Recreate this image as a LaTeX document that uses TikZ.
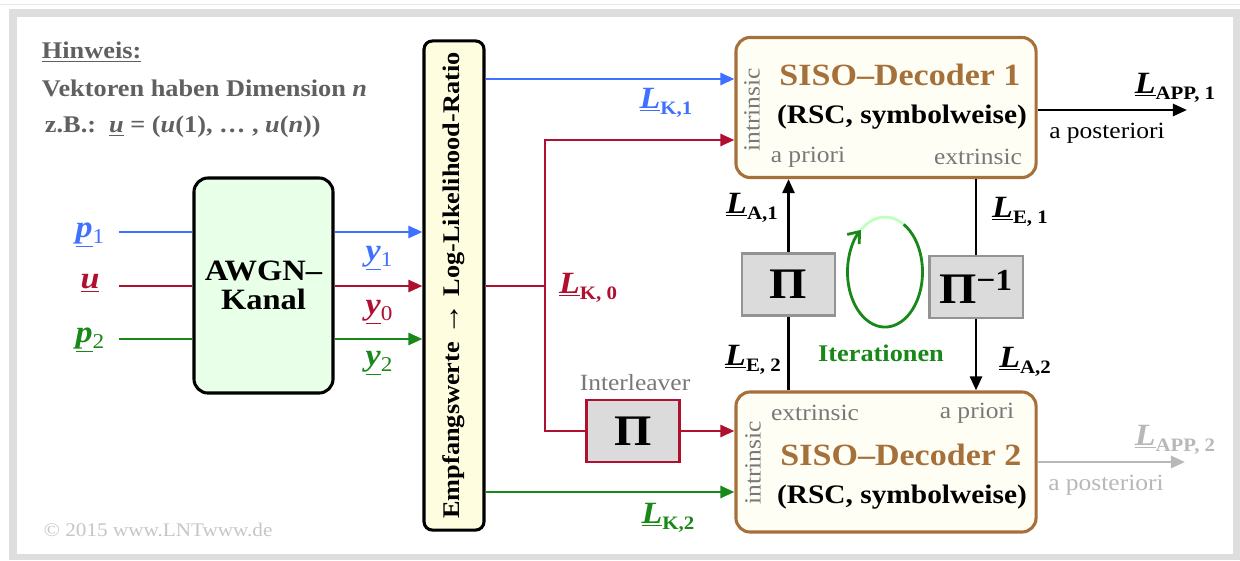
\documentclass[tikz,border=0pt]{standalone}
\usepackage{fontspec}
\setmainfont{Liberation Serif}[FakeStretch=1.1]
\usepackage{xcolor}
\usepackage{tikz}
\usetikzlibrary{arrows.meta}
\definecolor{lntblue}{RGB}{64,112,255}
\definecolor{lntred}{RGB}{176,16,48}
\definecolor{lntgreen}{RGB}{24,136,24}
\definecolor{lntbrown}{RGB}{166,112,58}
\definecolor{lntgray}{RGB}{96,96,96}
\definecolor{lntmid}{RGB}{120,120,120}
\definecolor{lntlight}{RGB}{184,184,184}
\definecolor{lntframe}{RGB}{222,222,222}
\newcommand{\fsz}[1]{\fontsize{#1}{#1}\selectfont}
\newcommand{\Lvec}[1]{\underline{\textbf{\textit{L}}}\raisebox{-4.5pt}{\fsz{13.5}\bfseries #1}}
\newcommand{\bvec}[2]{\underline{\textbf{\textit{#1}}}\raisebox{-4.5pt}{\fsz{15}#2}}
\tikzset{
  wire/.style={line width=2pt},
  arr/.style={wire, -{Triangle[length=10pt,width=8.5pt]}},
  chanbox/.style={draw=black, line width=2.2pt, rounded corners=10pt,
                  fill=green!9, minimum width=3.475cm, minimum height=5.375cm,
                  align=center, font=\fsz{21}\bfseries},
  llrbox/.style={draw=black, line width=2.2pt, rounded corners=6pt,
                 fill=yellow!12, minimum width=1.5cm, minimum height=12.225cm},
  decbox/.style={draw=lntbrown, line width=2.2pt, rounded corners=10pt,
                 fill=yellow!4, minimum width=7.5cm, minimum height=3.5cm},
  pibox/.style={draw=lntmid!80, line width=1.6pt, fill=black!14,
                minimum width=2.33cm, minimum height=1.55cm, font=\fsz{31}\bfseries},
  dectitle/.style={text=lntbrown, font=\fsz{22}\bfseries},
  decsub/.style={font=\fsz{19}\bfseries},
  portlab/.style={text=lntmid, font=\fsz{16.5}},
  siglab/.style={font=\fsz{22}},
  notelab/.style={anchor=west, text=lntgray, font=\fsz{17}\bfseries}
}
\begin{document}
\begin{tikzpicture}[x=0.025cm, y=-0.025cm]
  \useasboundingbox (0,0) rectangle (1240,560);
  \fill[lntframe] (9,9) rectangle (1240,560);
  \fill[white] (17,17) rectangle (1233,554);
  \draw[lntframe!70, line width=0.7pt] (0,4.5) -- (1240,4.5);

  \node[notelab] (hint) at (37,52) {\underline{Hinweis:}};
  \node[notelab] (dim) at (37,88) {Vektoren haben Dimension \textit{n}};
  \node[notelab] (ex) at (40,127) {z.B.:\ \ \underline{\textit{u}} = (\textit{u}(1), … , \textit{u}(\textit{n}))};
  \node[anchor=west, text=lntlight!80, font=\fsz{13.7}] (copy) at (39,530) {© 2015 www.LNTwww.de};

  \node[chanbox] (awgn) at (263.5,285.5) {AWGN–\\Kanal};
  \node[llrbox] (llr) at (454,285.5) {};
  \node[rotate=90, font=\fsz{17}\bfseries] (llrtxt) at (454,285.5) {Empfangswerte {\fsz{21}→} Log-Likelihood-Ratio};
  \node[decbox] (dec1) at (886,107.5) {};
  \node[decbox] (dec2) at (886,462) {};
  \node[pibox] (pi1) at (788.5,284.5) {Π};
  \node[pibox] (pi2) at (976,287) {Π\textsuperscript{−1}};
  \node[pibox, draw=lntred] (pil) at (633,431) {Π};
  \node[text=lntmid, font=\fsz{16.5}] (piltxt) at (635,383) {Interleaver};

  \node[dectitle] (t1) at (900,75) {SISO–Decoder 1};
  \node[decsub] (s1) at (902,117) {(RSC, symbolweise)};
  \node[portlab, rotate=90] (i1) at (752,110) {intrinsic};
  \node[portlab] (a1) at (808,157) {a priori};
  \node[portlab] (e1) at (978,157) {extrinsic};
  \node[dectitle] (t2) at (901,455) {SISO–Decoder 2};
  \node[decsub] (s2) at (902,497) {(RSC, symbolweise)};
  \node[portlab, rotate=90] (i2) at (753,463) {intrinsic};
  \node[portlab] (e2) at (815,413) {extrinsic};
  \node[portlab] (a2) at (977,413) {a priori};

  \node[siglab, text=lntblue] (p1) at (90,235) {\bvec{p}{1}};
  \node[siglab, text=lntred] (u) at (90,283) {\underline{\textbf{\textit{u}}}};
  \node[siglab, text=lntgreen] (p2) at (90,340) {\bvec{p}{2}};
  \node[siglab, text=lntblue] (y1) at (379,258) {\bvec{y}{1}};
  \node[siglab, text=lntred] (y0) at (379,312) {\bvec{y}{0}};
  \node[siglab, text=lntgreen] (y2) at (379,363) {\bvec{y}{2}};

  \node[siglab, text=lntblue] (lk1) at (666,103) {\Lvec{K,1}};
  \node[siglab, text=lntred] (lk0) at (588,288) {\Lvec{K, 0}};
  \node[siglab, text=lntgreen] (lk2) at (668,518) {\Lvec{K,2}};
  \node[siglab] (la1) at (752,208) {\Lvec{A,1}};
  \node[siglab] (le2) at (753,360) {\Lvec{E, 2}};
  \node[siglab] (le1) at (1020,212) {\Lvec{E, 1}};
  \node[siglab] (la2) at (1025,362) {\Lvec{A,2}};
  \node[siglab] (lapp1) at (1175,88) {\Lvec{APP, 1}};
  \node[portlab, text=black] (post1) at (1107,133) {a posteriori};
  \node[siglab, text=lntlight] (lapp2) at (1175,440) {\Lvec{APP, 2}};
  \node[portlab, text=lntlight] (post2) at (1106,485) {a posteriori};
  \node[text=lntgreen, font=\fsz{17}\bfseries] (iter) at (881,353) {Iterationen};

  \coordinate (in1) at (119,232);
  \coordinate (in0) at (119,286);
  \coordinate (in2) at (119,339);
  \draw[wire, lntblue] (in1) -- (in1 -| awgn.west);
  \draw[wire, lntred] (in0) -- (in0 -| awgn.west);
  \draw[wire, lntgreen] (in2) -- (in2 -| awgn.west);
  \draw[arr, lntblue] (in1 -| awgn.east) -- (in1 -| llr.west);
  \draw[arr, lntred] (in0 -| awgn.east) -- (in0 -| llr.west);
  \draw[arr, lntgreen] (in2 -| awgn.east) -- (in2 -| llr.west);

  \coordinate (k1) at (0,79);
  \coordinate (k0) at (545,286);
  \coordinate (r1) at (0,140);
  \coordinate (k2) at (0,492);
  \draw[arr, lntblue] (k1 -| llr.east) -- (k1 -| dec1.west);
  \draw[wire, lntred] (k0 -| llr.east) -- (k0);
  \draw[arr, lntred] (k0) |- (r1 -| dec1.west);
  \draw[wire, lntred] (k0) |- (pil.west);
  \draw[arr, lntred] (pil.east) -- (pil.east -| dec2.west);
  \draw[arr, lntgreen] (k2 -| llr.east) -- (k2 -| dec2.west);

  \coordinate (o1) at (1187,110);
  \coordinate (o2) at (1185,462);
  \draw[arr] (o1 -| dec1.east) -- (o1);
  \draw[arr, lntlight] (o2 -| dec2.east) -- (o2);

  \draw[arr] (pi1.north) -- (pi1.north |- dec1.south);
  \draw[wire] (dec2.north -| pi1.south) -- (pi1.south);
  \draw[wire] (dec1.south -| pi2.north) -- (pi2.north);
  \draw[arr] (pi2.south) -- (pi2.south |- dec2.north);

  \coordinate (loop) at (903.75,224.4);
  \draw[wire, green!25] (loop) arc[start angle=60, end angle=130, x radius=0.9375cm, y radius=1.375cm];
  \draw[wire, lntgreen, -{Straight Barb[length=7pt,width=11pt]}] (loop) arc[start angle=60, end angle=-230, x radius=0.9375cm, y radius=1.375cm];
\end{tikzpicture}
\end{document}
